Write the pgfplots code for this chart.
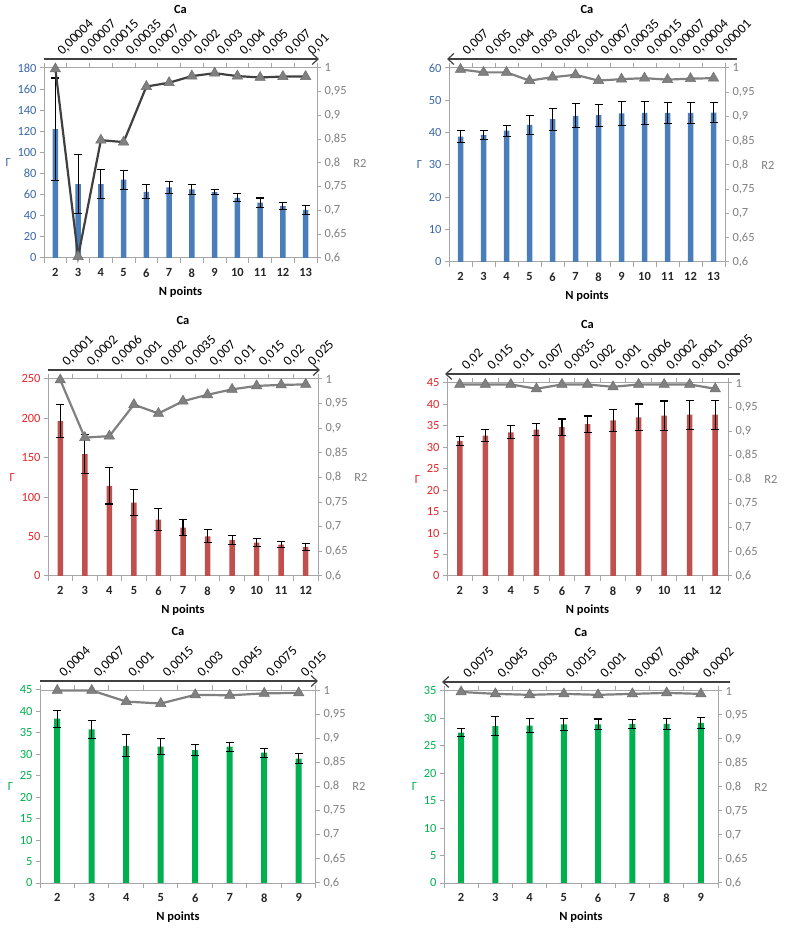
\documentclass[border=0pt]{standalone}
\usepackage{fontspec}
\setmainfont{Carlito}
\usepackage{pgfplots}
\pgfplotsset{compat=1.18}
\usetikzlibrary{arrows.meta}
\definecolor{barblue}{HTML}{4A7EBB}
\definecolor{lblblue}{HTML}{3A68A8}
\definecolor{barred}{HTML}{C0504D}
\definecolor{lblred}{HTML}{E3262A}
\definecolor{bargreen}{HTML}{00B050}
\definecolor{lblgreen}{HTML}{00B050}
\definecolor{axgray}{HTML}{A6A6A6}
\definecolor{txtgray}{HTML}{7F7F7F}
\definecolor{markgray}{HTML}{808080}
\definecolor{darkline}{HTML}{404040}
\newcommand{\fs}{\fontsize{12.5}{14}\selectfont}
\newcommand{\fst}{\fontsize{13.5}{15}\selectfont}
\pgfplotsset{
  panel/.style n args={4}{at={(#1bp,#2bp)}, anchor=south west, width=#3bp, height=#4bp, scale only axis},
  common/.style={
    font=\fs,
    /pgf/number format/assume math mode=true,
    tick align=outside,
    axis line style={axgray, line width=1bp},
    tick style={axgray, line width=1bp},
    major tick length=4bp, minor tick length=5bp,
    major x tick style={draw=none},
  },
  baraxis/.style={common,
    axis y line*=left, axis x line*=bottom, ymin=0,
    yticklabel style={color=#1, font=\fs},
    xticklabel style={font=\fs\bfseries, color=black!85, yshift=-3bp},
    xlabel={N points}, xlabel style={font=\fs\bfseries, yshift=-3bp},
    ylabel={Γ}, ylabel style={rotate=-90, color=#1, font=\fs},
  },
  r2axis/.style={common,
    axis y line*=right, axis x line*=top, clip=false,
    ymin=0.6, ymax=1, ytick={0.6,0.65,0.7,0.75,0.8,0.85,0.9,0.95,1},
    yticklabel style={color=txtgray, font=\fs, /pgf/number format/.cd, fixed, use comma, precision=2},
    ylabel={R2}, ylabel style={rotate=-90, color=txtgray, font=\fs},
    xticklabel style={xshift=7bp, rotate=45, anchor=base west, inner sep=0pt, font=\fst, color=black},
    xticklabel shift=8bp,
  },
  bars/.style 2 args={ybar, bar width=#2, fill=#1, draw=none,
    error bars/.cd, y dir=both, y explicit, error mark=|,
    error bar style={black, line width=1.1bp},
    error mark options={black, line width=1.1bp, mark size=4bp}},
  r2line/.style={color=#1, line width=2.2bp, mark=triangle*, mark size=6bp,
    mark options={fill=markgray, draw=markgray!85!black, line width=0.5bp}},
}
\newcommand{\panelextras}[1]{%
  \node[font=\fs\bfseries] at (rel axis cs:0.5,1) [yshift=59bp] {Ca};
  \ifnum#1=0
    \draw[darkline, line width=1.2bp, -{Straight Barb[length=6bp,width=11bp]}] ([yshift=9bp]rel axis cs:0,1) -- ([yshift=9bp,xshift=2bp]rel axis cs:1,1);
  \else
    \draw[darkline, line width=1.2bp, {Straight Barb[length=6bp,width=11bp]}-] ([yshift=9bp,xshift=-2bp]rel axis cs:0,1) -- ([yshift=9bp,xshift=12bp]rel axis cs:1,1);
  \fi
}
\begin{document}
\begin{tikzpicture}
\path[use as bounding box] (0,0) rectangle (785bp,929bp);
% ---------- Panel 1 ----------
\begin{axis}[baraxis=lblblue, panel={44}{671}{273}{190},
  xmin=1.5, xmax=13.5, xtick={2,...,13}, minor xtick={1.5,2.5,...,13.5},
  ymax=180, ytick={0,20,...,180}]
\addplot[bars={barblue}{5.5bp}] coordinates {
(2,122) +- (0,48.5) (3,70) +- (0,27.7) (4,70) +- (0,13.7) (5,74.3) +- (0,9)
(6,62.7) +- (0,6.6) (7,66.8) +- (0,5.8) (8,64.9) +- (0,4.4) (9,62.4) +- (0,2.5)
(10,57) +- (0,3.7) (11,52.4) +- (0,4.4) (12,49.2) +- (0,3.6) (13,45.5) +- (0,4)};
\end{axis}
\begin{axis}[r2axis, panel={44}{671}{273}{190},
  xmin=1.5, xmax=13.5, xtick={2,...,13}, minor xtick={1.5,2.5,...,13.5},
  xticklabels={{0,00004},{0,00007},{0,00015},{0,00035},{0,0007},{0,001},{0,002},{0,003},{0,004},{0,005},{0,007},{0,01}}]
\panelextras{0}
\addplot[r2line=darkline] coordinates {
(2,0.998) (3,0.603) (4,0.848) (5,0.844) (6,0.961) (7,0.969) (8,0.983) (9,0.989) (10,0.983) (11,0.980) (12,0.982) (13,0.982)};
\end{axis}
% ---------- Panel 2 ----------
\begin{axis}[baraxis=lblblue, panel={449}{667}{276}{194},
  xmin=1.5, xmax=13.5, xtick={2,...,13}, minor xtick={1.5,2.5,...,13.5},
  ymax=60, ytick={0,10,...,60}]
\addplot[bars={barblue}{5.5bp}] coordinates {
(2,38.8) +- (0,1.9) (3,39.3) +- (0,1.4) (4,40.6) +- (0,1.7) (5,42.4) +- (0,3)
(6,44.2) +- (0,3.4) (7,45.2) +- (0,3.7) (8,45.4) +- (0,3.4) (9,46) +- (0,3.7)
(10,46.1) +- (0,3.6) (11,46.1) +- (0,3.2) (12,46.1) +- (0,3.2) (13,46.2) +- (0,3)};
\end{axis}
\begin{axis}[r2axis, panel={449}{667}{276}{194},
  xmin=1.5, xmax=13.5, xtick={2,...,13}, minor xtick={1.5,2.5,...,13.5},
  xticklabels={{0,007},{0,005},{0,004},{0,003},{0,002},{0,001},{0,0007},{0,00035},{0,00015},{0,00007},{0,00004},{0,00001}}]
\panelextras{1}
\addplot[r2line=markgray] coordinates {
(2,0.997) (3,0.991) (4,0.991) (5,0.974) (6,0.981) (7,0.986) (8,0.974) (9,0.977) (10,0.979) (11,0.976) (12,0.978) (13,0.979)};
\end{axis}
% ---------- Panel 3 ----------
\begin{axis}[baraxis=lblred, panel={48}{353}{270}{197},
  xmin=1.5, xmax=12.5, xtick={2,...,12}, minor xtick={1.5,2.5,...,12.5},
  ymax=250, ytick={0,50,...,250}]
\addplot[bars={barred}{5.5bp}] coordinates {
(2,196.6) +- (0,21.4) (3,154.7) +- (0,24.5) (4,114.4) +- (0,23) (5,93.2) +- (0,16)
(6,71.6) +- (0,14) (7,61.4) +- (0,10) (8,50.4) +- (0,8.3) (9,45.8) +- (0,6)
(10,42.4) +- (0,5) (11,39.8) +- (0,4) (12,36.9) +- (0,4.2)};
\end{axis}
\begin{axis}[r2axis, panel={48}{353}{270}{197},
  xmin=1.5, xmax=12.5, xtick={2,...,12}, minor xtick={1.5,2.5,...,12.5},
  xticklabels={{0,0001},{0,0002},{0,0006},{0,001},{0,002},{0,0035},{0,007},{0,01},{0,015},{0,02},{0,025}}]
\panelextras{0}
\addplot[r2line=markgray] coordinates {
(2,0.998) (3,0.881) (4,0.884) (5,0.948) (6,0.930) (7,0.955) (8,0.968) (9,0.979) (10,0.986) (11,0.988) (12,0.989)};
\end{axis}
% ---------- Panel 4 ----------
\begin{axis}[baraxis=lblred, panel={447}{353}{281}{193},
  xmin=1.5, xmax=12.5, xtick={2,...,12}, minor xtick={1.5,2.5,...,12.5},
  ymax=45, ytick={0,5,...,45}]
\addplot[bars={barred}{5.5bp}] coordinates {
(2,31.5) +- (0,1) (3,32.7) +- (0,1.4) (4,33.5) +- (0,1.5) (5,34.1) +- (0,1.4)
(6,34.7) +- (0,1.9) (7,35.4) +- (0,1.9) (8,36.3) +- (0,2.6) (9,37) +- (0,3.1)
(10,37.4) +- (0,3.4) (11,37.6) +- (0,3.4) (12,37.6) +- (0,3.4)};
\end{axis}
\begin{axis}[r2axis, panel={447}{353}{281}{193},
  xmin=1.5, xmax=12.5, xtick={2,...,12}, minor xtick={1.5,2.5,...,12.5},
  xticklabels={{0,02},{0,015},{0,01},{0,007},{0,0035},{0,002},{0,001},{0,0006},{0,0002},{0,0001},{0,00005}}]
\panelextras{1}
\addplot[r2line=markgray] coordinates {
(2,0.997) (3,0.997) (4,0.997) (5,0.988) (6,0.997) (7,0.997) (8,0.992) (9,0.997) (10,0.997) (11,0.997) (12,0.988)};
\end{axis}
% ---------- Panel 5 ----------
\begin{axis}[baraxis=lblgreen, panel={40}{46}{276}{193},
  xmin=1.5, xmax=9.5, xtick={2,...,9}, minor xtick={1.5,2.5,...,9.5},
  ymax=45, ytick={0,5,...,45}]
\addplot[bars={bargreen}{6bp}] coordinates {
(2,38.3) +- (0,2) (3,35.8) +- (0,2.1) (4,32) +- (0,2.6) (5,31.8) +- (0,1.9)
(6,31) +- (0,1.3) (7,31.8) +- (0,1.05) (8,30.4) +- (0,1.05) (9,29) +- (0,1.15)};
\end{axis}
\begin{axis}[r2axis, panel={40}{46}{276}{193},
  xmin=1.5, xmax=9.5, xtick={2,...,9}, minor xtick={1.5,2.5,...,9.5},
  xticklabels={{0,0004},{0,0007},{0,001},{0,0015},{0,003},{0,0045},{0,0075},{0,015}}]
\panelextras{0}
\addplot[r2line=markgray] coordinates {
(2,0.999) (3,0.999) (4,0.976) (5,0.972) (6,0.990) (7,0.989) (8,0.993) (9,0.994)};
\end{axis}
% ---------- Panel 6 ----------
\begin{axis}[baraxis=lblgreen, panel={444}{46}{274}{192},
  xmin=1.5, xmax=9.5, xtick={2,...,9}, minor xtick={1.5,2.5,...,9.5},
  ymax=35, ytick={0,5,...,35}]
\addplot[bars={bargreen}{6bp}] coordinates {
(2,27.4) +- (0,0.7) (3,28.6) +- (0,1.7) (4,28.7) +- (0,1.3) (5,28.9) +- (0,1.15)
(6,28.9) +- (0,1) (7,29) +- (0,0.85) (8,29) +- (0,1) (9,29.2) +- (0,1.05)};
\end{axis}
\begin{axis}[r2axis, panel={444}{46}{274}{192},
  xmin=1.5, xmax=9.5, xtick={2,...,9}, minor xtick={1.5,2.5,...,9.5},
  xticklabels={{0,0075},{0,0045},{0,003},{0,0015},{0,001},{0,0007},{0,0004},{0,0002}}]
\panelextras{1}
\addplot[r2line=markgray] coordinates {
(2,0.998) (3,0.994) (4,0.992) (5,0.994) (6,0.992) (7,0.994) (8,0.996) (9,0.994)};
\end{axis}
\end{tikzpicture}
\end{document}
